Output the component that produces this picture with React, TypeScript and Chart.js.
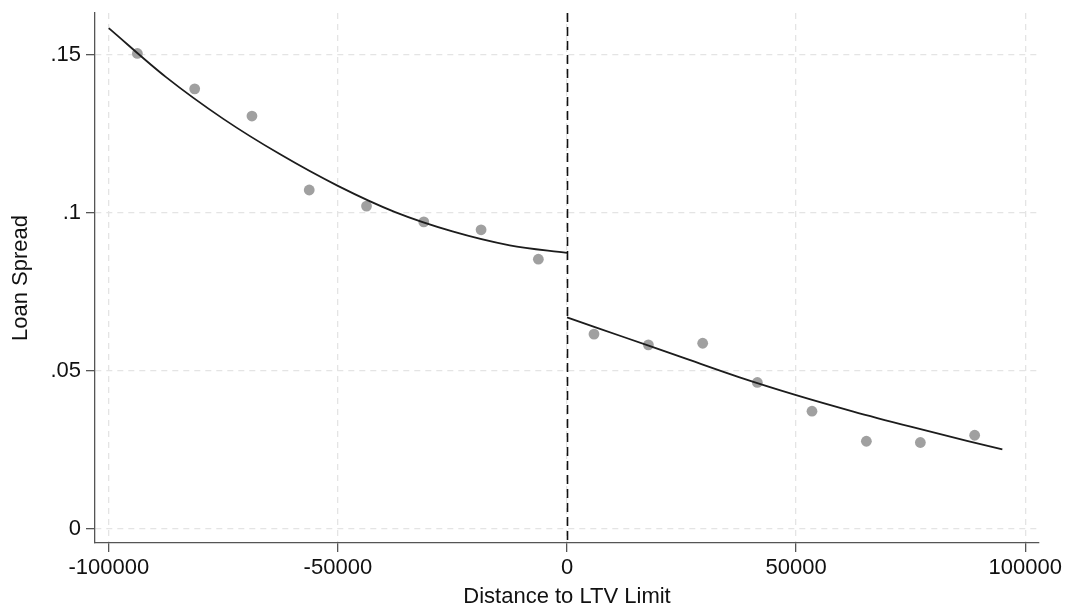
import { useEffect, useRef } from 'react';
import { Chart, registerables } from 'chart.js';

Chart.register(...registerables);

// Binned scatter points (left and right of the cutoff)
const leftBinX = [-93750, -81250, -68750, -56250, -43750, -31250, -18750, -6250];
const leftBinY = [0.1505, 0.1393, 0.1307, 0.1073, 0.1022, 0.0972, 0.0947, 0.0854];
const rightBinX = [5890, 17760, 29610, 41540, 53460, 65330, 77110, 88960];
const rightBinY = [0.0617, 0.0583, 0.0588, 0.0464, 0.0373, 0.0278, 0.0274, 0.0297];

// Fitted curves
const leftFitX = [-100000, -87500, -75000, -62500, -50000, -37500, -25000, -12500, 0];
const leftFitY = [0.1585, 0.143, 0.1298, 0.1185, 0.1086, 0.1003, 0.0942, 0.0898, 0.0874];
const rightFitX = [0, 12500, 25000, 37500, 50000, 62500, 75000, 87500, 95000];
const rightFitY = [0.067, 0.0607, 0.0544, 0.0481, 0.0424, 0.0372, 0.0324, 0.0278, 0.0252];

const cutoff = 0;

const xTicks = [-100000, -50000, 0, 50000, 100000];
const xTickLabels = ['-100000', '-50000', '0', '50000', '100000'];
const yTicks = [0, 0.05, 0.1, 0.15];
const yTickLabels = ['0', '.05', '.1', '.15'];

const xRange = [-103000, 103000];
const yRange = [-0.0044, 0.1633];

const FONT = '"Liberation Sans", Arial, Helvetica, sans-serif';

const toPts = (xs: number[], ys: number[]) => xs.map((x, i) => ({ x, y: ys[i] }));

const cutoffLine = {
  id: 'cutoffLine',
  afterDatasetsDraw(chart: any) {
    const { ctx, chartArea, scales } = chart;
    const px = Math.round(scales.x.getPixelForValue(cutoff)) + 0.5;
    ctx.save();
    ctx.strokeStyle = '#111';
    ctx.lineWidth = 1.6;
    ctx.setLineDash([9, 5]);
    ctx.beginPath();
    ctx.moveTo(px, chartArea.top);
    ctx.lineTo(px, chartArea.bottom);
    ctx.stroke();
    ctx.restore();
  },
};

export default function App() {
  const ref = useRef<HTMLCanvasElement | null>(null);

  useEffect(() => {
    if (!ref.current) return;
    const gridCommon = {
      color: '#e4e4e4',
      lineWidth: 1.3,
      drawTicks: true,
      tickLength: 9,
      tickColor: '#555',
      tickWidth: 1.3,
      tickBorderDash: [],
    };
    const borderCommon = { display: true, color: '#555', width: 1.3, dash: [6, 5] };
    const chart = new Chart(ref.current, {
      type: 'scatter',
      data: {
        datasets: [
          {
            type: 'line',
            data: toPts(leftFitX, leftFitY),
            borderColor: '#1c1c1c',
            borderWidth: 1.8,
            pointRadius: 0,
            cubicInterpolationMode: 'monotone',
            fill: false,
            order: 0,
          } as any,
          {
            type: 'line',
            data: toPts(rightFitX, rightFitY),
            borderColor: '#1c1c1c',
            borderWidth: 1.8,
            pointRadius: 0,
            cubicInterpolationMode: 'monotone',
            fill: false,
            order: 0,
          } as any,
          {
            type: 'scatter',
            data: toPts(leftBinX, leftBinY),
            backgroundColor: '#a0a0a0',
            borderWidth: 0,
            pointRadius: 5.4,
            order: 1,
          },
          {
            type: 'scatter',
            data: toPts(rightBinX, rightBinY),
            backgroundColor: '#a0a0a0',
            borderWidth: 0,
            pointRadius: 5.4,
            order: 1,
          },
        ],
      },
      options: {
        animation: false,
        responsive: false,
        devicePixelRatio: 1,
        layout: { padding: { left: 0, top: 13, right: 29, bottom: 0 } },
        plugins: {
          legend: { display: false },
          tooltip: { enabled: false },
        },
        scales: {
          x: {
            type: 'linear',
            min: xRange[0],
            max: xRange[1],
            afterBuildTicks: (s: any) => {
              s.ticks = xTicks.map((v) => ({ value: v }));
            },
            afterFit: (s: any) => {
              s.height = 66;
              s.paddingLeft = 0;
              s.paddingRight = 0;
            },
            grid: gridCommon,
            border: borderCommon,
            ticks: {
              autoSkip: false,
              maxRotation: 0,
              padding: 3,
              color: '#111',
              font: { family: FONT, size: 22 },
              callback: (_v: any, i: number) => xTickLabels[i],
            },
            title: {
              display: true,
              text: 'Distance to LTV Limit',
              color: '#111',
              font: { family: FONT, size: 22, lineHeight: 1 },
              padding: { top: 0, bottom: 1 },
            },
          },
          y: {
            type: 'linear',
            min: yRange[0],
            max: yRange[1],
            afterBuildTicks: (s: any) => {
              s.ticks = yTicks.map((v) => ({ value: v }));
            },
            afterFit: (s: any) => {
              s.width = 95;
              s.paddingTop = 0;
              s.paddingBottom = 0;
            },
            grid: gridCommon,
            border: borderCommon,
            ticks: {
              autoSkip: false,
              padding: 5,
              color: '#111',
              font: { family: FONT, size: 22 },
              callback: (_v: any, i: number) => yTickLabels[i],
            },
            title: {
              display: true,
              text: 'Loan Spread',
              color: '#111',
              font: { family: FONT, size: 22, lineHeight: 1 },
              padding: { top: 10, bottom: 0 },
            },
          },
        },
      },
      plugins: [cutoffLine],
    });
    return () => chart.destroy();
  }, []);

  return (
    <div style={{ position: 'absolute', left: 0, top: 0, width: 1068, height: 609, background: '#fff' }}>
      <canvas ref={ref} width={1068} height={609} style={{ display: 'block' }} />
    </div>
  );
}
